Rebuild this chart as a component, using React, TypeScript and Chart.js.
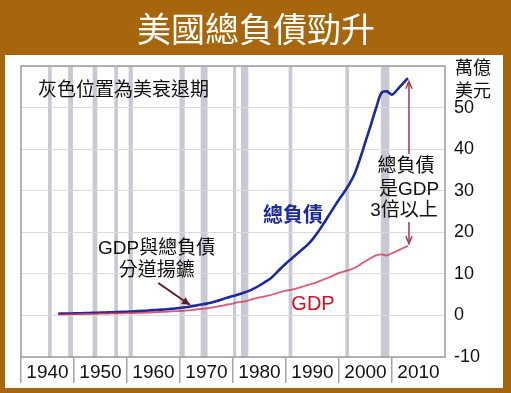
import React, { useEffect, useRef } from 'react';
import { Chart, registerables } from 'chart.js';

Chart.register(...registerables);

const W = 511;
const H = 393;

const TITLE = '美國總負債勁升';
const NOTE = '灰色位置為美衰退期';
const UNIT_LINES = ['萬億', '美元'];
const DEBT_LABEL = '總負債';
const GDP_LABEL = 'GDP';
const SPLIT_LINES = ['GDP與總負債', '分道揚鑣'];
const RATIO_LINES = ['總負債', '是GDP', '3倍以上'];

const years = [
  1947, 1948, 1949, 1950, 1951, 1952, 1953, 1954, 1955, 1956,
  1957, 1958, 1959, 1960, 1961, 1962, 1963, 1964, 1965, 1966,
  1967, 1968, 1969, 1970, 1971, 1972, 1973, 1974, 1975, 1976,
  1977, 1978, 1979, 1980, 1981, 1982, 1983, 1984, 1985, 1986,
  1987, 1988, 1989, 1990, 1991, 1992, 1993, 1994, 1995, 1996,
  1997, 1998, 1999, 2000, 2001, 2002, 2003, 2004, 2005, 2006,
  2007, 2008, 2009, 2010, 2011, 2012, 2013,
];

// total debt, trillions USD
const totalDebt = [
  0.42, 0.44, 0.46, 0.49, 0.52, 0.56, 0.60, 0.63, 0.69, 0.72,
  0.76, 0.80, 0.86, 0.90, 0.96, 1.03, 1.10, 1.18, 1.27, 1.35,
  1.44, 1.55, 1.66, 1.80, 1.96, 2.16, 2.40, 2.62, 2.84, 3.12,
  3.48, 3.90, 4.30, 4.65, 5.05, 5.45, 5.90, 6.50, 7.20, 8.00,
  8.80, 10.0, 11.3, 12.5, 13.6, 14.7, 15.8, 16.9, 18.3, 20.0,
  21.9, 23.9, 25.9, 27.9, 29.7, 31.7, 34.2, 37.8, 41.8, 45.8,
  49.9, 53.5, 53.9, 53.1, 54.3, 55.7, 57.1,
];

// GDP, trillions USD
const gdp = [
  0.25, 0.27, 0.27, 0.30, 0.34, 0.36, 0.38, 0.38, 0.42, 0.44,
  0.47, 0.48, 0.51, 0.54, 0.56, 0.60, 0.64, 0.69, 0.74, 0.82,
  0.86, 0.94, 1.02, 1.07, 1.16, 1.28, 1.43, 1.55, 1.69, 1.88,
  2.09, 2.36, 2.63, 2.86, 3.21, 3.34, 3.64, 4.04, 4.34, 4.58,
  4.86, 5.24, 5.64, 5.96, 6.16, 6.52, 6.86, 7.29, 7.64, 8.07,
  8.58, 9.06, 9.63, 10.25, 10.58, 10.94, 11.46, 12.21, 13.04, 13.81,
  14.45, 14.71, 14.42, 14.96, 15.52, 16.16, 16.70,
];

const recessionStart = [1945.1, 1948.9, 1953.5, 1957.6, 1960.3, 1969.9, 1973.9, 1980.0, 1981.5, 1990.5, 2001.2, 2007.9];
const recessionEnd = [1945.8, 1949.8, 1954.4, 1958.3, 1961.1, 1970.9, 1975.2, 1980.6, 1982.9, 1991.2, 2001.9, 2009.5];

const decadeTicks = [1940, 1950, 1960, 1970, 1980, 1990, 2000, 2010];

const BROWN = '#a8660c';
const BLUE = '#1c2a9c';
const RED = 'rgba(212, 50, 84, 0.8)';
const CJK = '"Noto Sans CJK TC", "Noto Sans CJK SC", sans-serif';
const MIX = '"Liberation Sans", "Noto Sans CJK TC", sans-serif';

function arrowHead(ctx: CanvasRenderingContext2D, fx: number, fy: number, tx: number, ty: number, len: number, spread: number) {
  const a = Math.atan2(ty - fy, tx - fx);
  ctx.beginPath();
  ctx.moveTo(tx - len * Math.cos(a - spread), ty - len * Math.sin(a - spread));
  ctx.lineTo(tx, ty);
  ctx.lineTo(tx - len * Math.cos(a + spread), ty - len * Math.sin(a + spread));
  ctx.stroke();
}

const decor = {
  id: 'decor',
  beforeDraw(chart: any) {
    const { ctx, chartArea: ca } = chart;
    const xs = chart.scales.x;
    ctx.save();
    ctx.fillStyle = BROWN;
    ctx.fillRect(0, 0, W, H);
    ctx.fillStyle = '#ffffff';
    ctx.fillRect(5, 55, 498, 333);
    ctx.fillStyle = '#ffffff';
    ctx.font = `34px ${CJK}`;
    ctx.textAlign = 'center';
    ctx.textBaseline = 'middle';
    ctx.fillText(TITLE, 256, 29);
    ctx.fillStyle = '#c9c9d4';
    for (let i = 0; i < recessionStart.length; i++) {
      const x0 = xs.getPixelForValue(recessionStart[i]);
      const x1 = xs.getPixelForValue(recessionEnd[i]);
      ctx.fillRect(x0, ca.top, Math.max(3, x1 - x0), ca.bottom - ca.top);
    }
    ctx.restore();
  },
  beforeDatasetsDraw(chart: any) {
    const { ctx, chartArea: ca } = chart;
    ctx.save();
    ctx.strokeStyle = '#9c9c9c';
    ctx.lineWidth = 1.5;
    ctx.strokeRect(ca.left, ca.top, ca.right - ca.left, ca.bottom - ca.top);
    ctx.restore();
  },
  afterDatasetsDraw(chart: any) {
    const { ctx, chartArea: ca } = chart;
    const xs = chart.scales.x;
    const ys = chart.scales.y;
    ctx.save();
    ctx.textBaseline = 'middle';

    // unit
    ctx.fillStyle = '#111';
    ctx.textAlign = 'left';
    ctx.font = `18px ${CJK}`;
    ctx.fillText(UNIT_LINES[0], ca.right + 10, 67);
    ctx.fillText(UNIT_LINES[1], ca.right + 10, 90);

    // note
    ctx.font = `19px ${CJK}`;
    ctx.fillText(NOTE, ca.left + 17, ca.top + 23);

    // debt label
    ctx.textAlign = 'center';
    ctx.fillStyle = BLUE;
    ctx.font = `bold 20px ${CJK}`;
    ctx.fillText(DEBT_LABEL, xs.getPixelForValue(1991.3), ys.getPixelForValue(24.4));

    // GDP label
    ctx.fillStyle = '#cc1122';
    ctx.font = `20px ${MIX}`;
    ctx.fillText(GDP_LABEL, xs.getPixelForValue(1995.1), ys.getPixelForValue(2.6));

    // split annotation
    ctx.fillStyle = '#111';
    ctx.font = `19px ${MIX}`;
    const sx = xs.getPixelForValue(1965.6);
    ctx.fillText(SPLIT_LINES[0], sx, ys.getPixelForValue(16.1));
    ctx.fillText(SPLIT_LINES[1], sx, ys.getPixelForValue(10.8));

    // arrow to divergence
    const ax0 = xs.getPixelForValue(1965.9), ay0 = ys.getPixelForValue(7.8);
    const ax1 = xs.getPixelForValue(1971.9), ay1 = ys.getPixelForValue(2.5);
    ctx.strokeStyle = '#5e1c2e';
    ctx.lineWidth = 2;
    ctx.beginPath();
    ctx.moveTo(ax0, ay0);
    ctx.lineTo(ax1, ay1);
    ctx.stroke();
    ctx.fillStyle = '#5e1c2e';
    const ang = Math.atan2(ay1 - ay0, ax1 - ax0);
    ctx.beginPath();
    ctx.moveTo(ax1, ay1);
    ctx.lineTo(ax1 - 9 * Math.cos(ang - 0.45), ay1 - 9 * Math.sin(ang - 0.45));
    ctx.lineTo(ax1 - 9 * Math.cos(ang + 0.45), ay1 - 9 * Math.sin(ang + 0.45));
    ctx.closePath();
    ctx.fill();

    // ratio annotation
    const rx = xs.getPixelForValue(2013.2);
    const yTop = ys.getPixelForValue(56.3);
    const yBot = ys.getPixelForValue(17.3);
    ctx.strokeStyle = '#a8384f';
    ctx.lineWidth = 1.5;
    ctx.beginPath();
    ctx.moveTo(rx, yTop);
    ctx.lineTo(rx, 154);
    ctx.moveTo(rx, 222);
    ctx.lineTo(rx, yBot);
    ctx.stroke();
    arrowHead(ctx, rx, yBot, rx, yTop, 8, 0.4);
    arrowHead(ctx, rx, yTop, rx, yBot, 8, 0.4);

    ctx.fillStyle = '#111';
    ctx.font = `19px ${MIX}`;
    ctx.fillText(RATIO_LINES[0], 406, 167);
    ctx.fillText(RATIO_LINES[1], 409, 190);
    ctx.fillText(RATIO_LINES[2], 404, 211);
    ctx.restore();
  },
};

export default function App() {
  const ref = useRef<HTMLCanvasElement>(null);
  useEffect(() => {
    if (!ref.current) return;
    const chart = new Chart(ref.current, {
      type: 'line',
      data: {
        datasets: [
          {
            label: 'GDP',
            data: years.map((yr, i) => ({ x: yr, y: gdp[i] })),
            borderColor: RED,
            borderWidth: 1.8,
            pointRadius: 0,
            tension: 0.3,
            order: 0,
          },
          {
            label: '總負債',
            data: years.map((yr, i) => ({ x: yr, y: totalDebt[i] })),
            borderColor: BLUE,
            borderWidth: 2.6,
            pointRadius: 0,
            tension: 0.3,
            order: 1,
          },
        ],
      },
      options: {
        responsive: false,
        animation: false,
        devicePixelRatio: 1,
        layout: { padding: { left: 21, top: 66, right: 0, bottom: 0 } },
        plugins: { legend: { display: false }, tooltip: { enabled: false }, title: { display: false } },
        scales: {
          x: {
            type: 'linear',
            min: 1940,
            max: 2020,
            afterBuildTicks: (scale: any) => {
              scale.ticks = [...decadeTicks, 2020].map((v) => ({ value: v }));
            },
            afterFit: (scale: any) => {
              scale.height = 36;
            },
            border: { display: false },
            grid: {
              drawOnChartArea: false,
              drawTicks: true,
              tickLength: 26,
              lineWidth: 1.5,
              color: (c: any) => (c.tick && c.tick.value > 2010 ? 'rgba(0,0,0,0)' : '#a4a4a4'),
            },
            ticks: {
              autoSkip: false,
              maxRotation: 0,
              labelOffset: 26.5,
              padding: -22,
              color: '#111',
              font: { family: 'Liberation Sans', size: 19 },
              callback: (v: any) => (v > 2010 ? '' : String(v)),
            },
          },
          y: {
            position: 'right',
            min: -10,
            max: 60,
            afterFit: (scale: any) => {
              scale.width = 66;
            },
            border: { display: false },
            grid: { color: '#dadada', lineWidth: 1, drawTicks: false },
            ticks: {
              stepSize: 10,
              padding: 9,
              color: '#111',
              font: { family: 'Liberation Sans', size: 18 },
              callback: (v: any) => (v >= 60 ? '' : String(v)),
            },
          },
        },
      },
      plugins: [decor],
    });
    return () => chart.destroy();
  }, []);
  return (
    <div style={{ position: 'fixed', left: 0, top: 0, width: W, height: H }}>
      <canvas ref={ref} width={W} height={H} style={{ display: 'block', width: W, height: H }} />
    </div>
  );
}
